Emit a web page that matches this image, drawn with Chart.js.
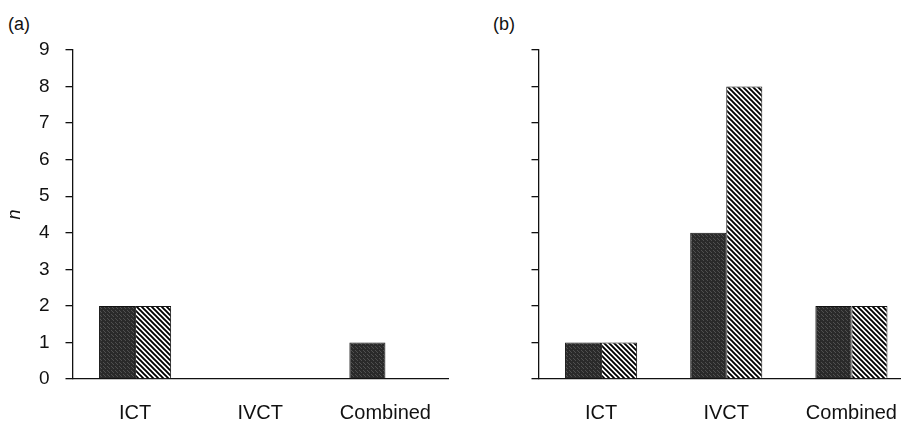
<!DOCTYPE html>
<html>
<head>
<meta charset="utf-8">
<script src="https://cdn.jsdelivr.net/npm/chart.js@4"></script>
<style>
  html, body { margin: 0; padding: 0; background: #fff; overflow: hidden; }
  body { width: 901px; height: 426px; position: relative; }
  .box { position: absolute; top: 0; width: 460px; height: 426px; }
  .tag { position: absolute; top: 14px; font: 18px "Liberation Sans", Arial, sans-serif; color: #111; }
</style>
</head>
<body>
<div class="tag" style="left:8px">(a)</div>
<div class="tag" style="left:493px">(b)</div>
<div class="box" style="left:0px"><canvas id="chartA"></canvas></div>
<div class="box" style="left:466px"><canvas id="chartB"></canvas></div>
<script>
const categories = ['ICT', 'IVCT', 'Combined'];
const yTicks = [0, 1, 2, 3, 4, 5, 6, 7, 8, 9];

// panel (a)
const darkA = [2, 0, 1];
const hatchA = [2, 0, 0];

// panel (b)
const darkB = [1, 4, 2];
const hatchB = [1, 8, 2];

// fill patterns
function darkPattern() {
  const c = document.createElement('canvas');
  c.width = 4; c.height = 4;
  const g = c.getContext('2d');
  g.fillStyle = '#2a2a2a';
  g.fillRect(0, 0, 4, 4);
  g.fillStyle = '#505050';
  g.fillRect(1, 0, 1, 1);
  g.fillRect(3, 2, 1, 1);
  g.fillRect(0, 3, 1, 1);
  return g.createPattern(c, 'repeat');
}

function hatchPattern() {
  const s = 5;
  const c = document.createElement('canvas');
  c.width = s; c.height = s;
  const g = c.getContext('2d');
  g.fillStyle = '#fff';
  g.fillRect(0, 0, s, s);
  g.strokeStyle = '#000';
  g.lineWidth = 1.9;
  g.beginPath();
  g.moveTo(-1, -1); g.lineTo(s + 1, s + 1);
  g.moveTo(-1, s - 1); g.lineTo(1, s + 1);
  g.moveTo(s - 1, -1); g.lineTo(s + 1, 1);
  g.stroke();
  return g.createPattern(c, 'repeat');
}

const family = '"Liberation Sans", Arial, sans-serif';

function makeChart(id, dark, hatch, showLabels) {
  return new Chart(document.getElementById(id), {
    type: 'bar',
    data: {
      labels: categories,
      datasets: [
        { data: dark, backgroundColor: darkPattern(), borderColor: '#111', borderWidth: 1 },
        { data: hatch, backgroundColor: hatchPattern(), borderColor: '#111', borderWidth: 1 },
      ],
    },
    options: {
      responsive: true,
      maintainAspectRatio: false,
      animation: false,
      datasets: { bar: { barPercentage: 1, categoryPercentage: 0.576 } },
      layout: { padding: { top: 50, right: 12, left: 0, bottom: 0 } },
      plugins: { legend: { display: false }, tooltip: { enabled: false } },
      scales: {
        x: {
          grid: { display: false },
          border: { display: true, color: '#111', width: 1.3 },
          ticks: { color: '#111', font: { family: family, size: 20 }, padding: 14 },
          afterFit: (s) => { s.height = 47; },
        },
        y: {
          min: 0,
          max: 9,
          afterBuildTicks: (s) => { s.ticks = yTicks.map(v => ({ value: v })); },
          grid: { drawOnChartArea: false, drawTicks: true, tickLength: 7, color: '#111', lineWidth: 1.3 },
          border: { display: true, color: '#111', width: 1.3 },
          ticks: { color: showLabels ? '#111' : 'rgba(0,0,0,0)', font: { family: family, size: 19 }, padding: 16 },
          title: {
            display: showLabels,
            text: 'n',
            color: '#111',
            font: { family: family, size: 18, style: 'italic' },
            padding: 4,
          },
          afterFit: (s) => { s.width = 72.5; },
        },
      },
    },
  });
}

makeChart('chartA', darkA, hatchA, true);
makeChart('chartB', darkB, hatchB, false);
</script>
</body>
</html>
